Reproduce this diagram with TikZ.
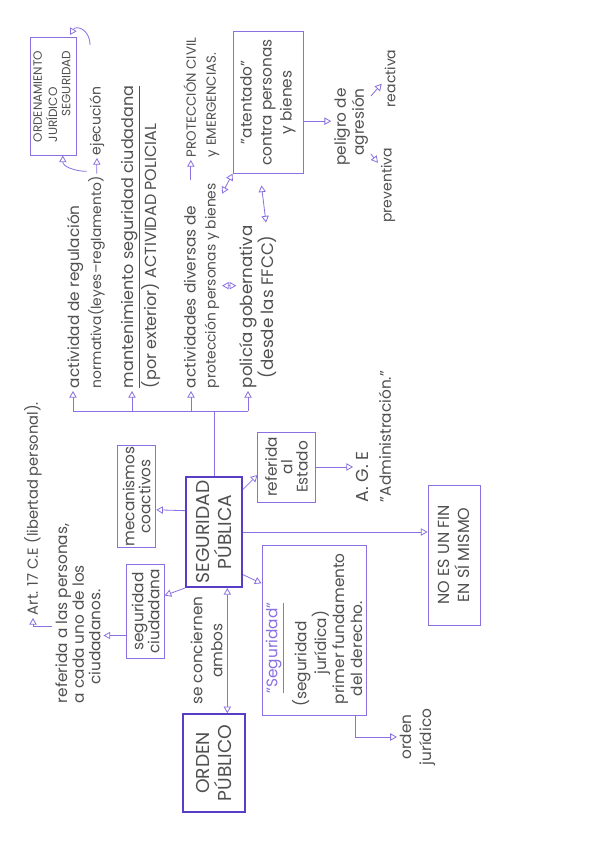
\documentclass[tikz,border=0pt]{standalone}
\usepackage{fontspec}
\setmainfont{Poppins}
\usepackage{tikz}
\usetikzlibrary{arrows.meta, positioning, calc}

\definecolor{lila}{HTML}{8A70E0}
\definecolor{lilaosc}{HTML}{5A3DC6}
\definecolor{lapiz}{HTML}{505050}

\newcommand{\chico}{\fontsize{10.4}{15}\selectfont}

\begin{document}
\begin{tikzpicture}[
  x=0.75pt, y=0.75pt, rotate=90, transform shape,
  every node/.style={text=lapiz, font=\fontsize{11.5}{15}\selectfont},
  caja/.style={rectangle, draw=lila, line width=0.6pt, inner sep=0pt, align=center},
  cajagrande/.style={rectangle, draw=lilaosc, line width=1.6pt, inner sep=0pt,
                     align=center, font=\fontsize{14}{16.5}\selectfont},
  nota/.style={align=left, inner sep=2pt},
  linea/.style={draw=lila, line width=0.6pt},
  flecha/.style={linea, -{Triangle[open, length=5pt, width=5.5pt]}},
  dflecha/.style={linea, {Triangle[open, length=5pt, width=5.5pt]}-{Triangle[open, length=5pt, width=5.5pt]}}
]
\fill[white] (0,0) rectangle (848,616);
\useasboundingbox (0,0) rectangle (848,616);

% centro
\node[cajagrande, minimum width=73pt, minimum height=46.5pt] (op) at (85,402) {ORDEN\\PÚBLICO};
\node[cajagrande, minimum width=82.5pt, minimum height=42pt] (sp) at (316,402) {SEGURIDAD\\PÚBLICA};

% lado ciudadano
\node[caja, minimum width=77pt, minimum height=29pt, font=\fontsize{11.5}{12}\selectfont] (mec) at (351.5,479.5) {mecanismos\\coactivos};
\node[caja, minimum width=70pt, minimum height=28pt, font=\fontsize{11.5}{12}\selectfont] (segciu) at (236.5,470.5) {seguridad\\ciudadana};
\node[nota, anchor=west, font=\fontsize{11.5}{12.5}\selectfont] (refc) at (142,538) {referida a las personas,\\a cada uno de los\\\hspace*{1.2em}ciudadanos.};
\node[nota, anchor=west, font=\fontsize{11}{15}\selectfont] (art) at (230,583) {Art. 17 C.E (libertad personal).};

% ramas de actividad
\coordinate (hub) at (437,402);
\coordinate (b1) at (437,543);
\coordinate (b2) at (437,484);
\coordinate (b3) at (437,425);
\coordinate (b4) at (437,368);

\node[nota, anchor=west, font=\fontsize{11.5}{16.5}\selectfont] (act) at (457,530) {actividad de regulación\\{\chico normativa(leyes–reglamento)}};
\node[nota, anchor=west, font=\fontsize{10.5}{15}\selectfont] (ejec) at (690,519) {ejecución};
\node[caja, minimum width=88pt, minimum height=35pt, font=\fontsize{9}{10}\selectfont] (ordjur) at (751.5,562.5)
  {\begin{tabular}{@{}l@{}}ORDENAMIENTO\\JURÍDICO\\\multicolumn{1}{@{}r@{}}{SEGURIDAD}\end{tabular}};
\node[nota, anchor=west, font=\fontsize{12}{13.5}\selectfont] (mant) at (457,475) {\underline{mantenimiento seguridad ciudadana}\\(por exterior) ACTIVIDAD POLICIAL};
\node[nota, anchor=west] (acts) at (457,414.5) {actividades diversas de\\{\chico protección personas y bienes}};
\node[nota, anchor=west, font=\fontsize{10}{15}\selectfont] (pc) at (688,414.5) {PROTECCIÓN CIVIL\\y EMERGENCIAS.};
\node[nota, anchor=west, align=center, font=\fontsize{12.5}{15}\selectfont] (pol) at (457,358) {policía gobernativa\\(desde las FFCC)};

\node[caja, minimum width=106pt, minimum height=52.5pt] (atent) at (745.5,348) {"atentado"\\contra personas\\y bienes};
\node[nota, align=right, font=\fontsize{11.5}{13.5}\selectfont] (pel) at (721,265) {peligro de\\agresión};
\node[nota, font=\fontsize{10.5}{15}\selectfont] (prev) at (662.5,228) {preventiva};
\node[nota, font=\fontsize{10.5}{15}\selectfont] (reac) at (769.5,226) {reactiva};

% lado Estado
\node[caja, minimum width=52.5pt, minimum height=43pt, font=\fontsize{11.5}{11.5}\selectfont] (estado) at (381,329.5) {referida\\al\\Estado};
\node[nota, anchor=west, font=\fontsize{11.5}{17}\selectfont] (age) at (343,242.5) {{\fontsize{13}{15}\selectfont A. G. E}\\"Administración."};
\node[caja, minimum width=105pt, minimum height=39pt, font=\fontsize{12}{15}\selectfont] (nofin) at (293,162) {NO ES UN FIN\\EN SÍ MISMO};

\node[caja, minimum width=127.5pt, minimum height=78pt, align=left, font=\fontsize{11.5}{13.5}\selectfont] (segjur) at (218,302)
  {\hspace*{10pt}\textcolor{lila}{\underline{"Seguridad"}}\\[5pt](seguridad\\\hspace*{24pt}jurídica)\\\hspace*{2pt}primer fundamento\\\hspace*{8pt}del derecho.};
\node[nota, align=center] (ojur) at (111,198.5) {orden\\jurídico};

% conexiones
\draw[linea] (sp.east) -- (hub);
\draw[linea] (b1) -- (b4);
\foreach \c/\n in {b1/act, b2/mant, b3/acts, b4/pol}
  \draw[flecha] (\c) -- (\c -| \n.west);

\draw[flecha] ([yshift=-8pt]act.east) -- (ejec.west);
\coordinate (bucle) at (803,526);
\draw[flecha] ([xshift=-10pt]ejec.north west) to[out=90, in=180] ([yshift=-7pt]ordjur.west);
\draw[flecha] (bucle) .. controls (819,526) and (823,540) .. (813,546);
\draw[flecha] ([yshift=8pt]acts.east) -- ([yshift=8pt]pc.west);
\draw[dflecha] (acts.south) -- (acts.south |- pol.north);
\draw[dflecha] (atent.north west) -- ([xshift=-10pt]acts.south east);
\draw[dflecha, shorten <=9pt] ([yshift=6pt]atent.west) -- ([yshift=-6pt]pol.east);
\draw[flecha] ([xshift=-14pt]atent.south) -- ([xshift=-14pt]atent.south |- pel.north);
\draw[flecha] ([xshift=11pt]pel.south west) -- ([xshift=17pt]prev.north);
\draw[flecha] ([xshift=-8pt]pel.south east) -- ([xshift=-4pt]reac.north);

\draw[dflecha] ([yshift=-10pt]sp.west) -- node[midway, above=0pt, align=center] (conc) {se conciernen\\ambos} ([yshift=-10pt]op.east);
\draw[flecha] ([xshift=16pt]sp.north) -- ([xshift=-10pt]mec.south);
\draw[flecha] (sp.north west) -- ([xshift=12pt]segciu.south);
\draw[flecha] ([xshift=-18pt]segciu.north) -- ([xshift=-18pt]segciu.north |- refc.south);
\draw[flecha] ([xshift=-10pt]refc.north) |- (art.west);

\draw[flecha] ([xshift=-10pt]sp.south east) -- ([xshift=-6pt]estado.north);
\draw[flecha] (estado.south) -- (estado.south |- age.north);
\draw[flecha] (sp.south) -- (sp.south |- nofin.north);
\draw[flecha] ([xshift=10pt]sp.south west) -- ([xshift=35pt]segjur.north);
\draw[flecha] ([yshift=-31pt]segjur.west) -| (ojur.north);

\end{tikzpicture}
\end{document}
